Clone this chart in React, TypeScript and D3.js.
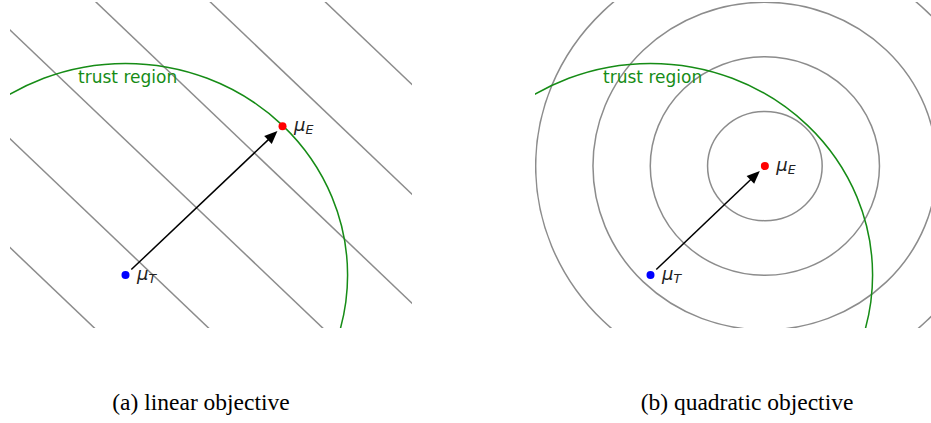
import React from "react";
import * as d3 from "d3";

// data (plot units: mu_T at the origin, trust region radius 1)
const xDomain = [-0.52, 1.29];
const yDomain = [-0.25, 1.29];
const muT = [0, 0];
const muELinear = [0.707, 0.703];
const muEQuad = [0.515, 0.515];
const trustRadius = 1;
const linearLevels = [-0.39, 0.124, 0.638, 1.157, 1.672, 2.19]; // x + y = c
const quadRadii = [0.258, 0.516, 0.774, 1.032];
const trustLabel = { text: "trust region", x: -0.2135, y: 0.907 };
const captions = ["(a) linear objective", "(b) quadratic objective"];

const W = 931;
const H = 423;
const panels = [
  { id: "lin", left: 10, right: 412, capX: 201 },
  { id: "quad", left: 535, right: 937, capX: 747 },
];
const top = 2;
const bottom = 328;

function Arrow({ from, to, x, y }) {
  const x0 = x(from[0]), y0 = y(from[1]);
  const x1 = x(to[0]), y1 = y(to[1]);
  const dx = x1 - x0, dy = y1 - y0;
  const len = Math.sqrt(dx * dx + dy * dy);
  const ux = dx / len, uy = dy / len;
  const sx = x0 + ux * 8, sy = y0 + uy * 8;
  const tx = x1 - ux * 7, ty = y1 - uy * 7;
  const hl = 13, hw = 5.5;
  const bx = tx - ux * hl, by = ty - uy * hl;
  const head = `M${tx},${ty}L${bx - uy * hw},${by + ux * hw}L${bx + uy * hw},${by - ux * hw}Z`;
  return (
    <g>
      <line x1={sx} y1={sy} x2={bx + ux * 2} y2={by + uy * 2} stroke="#000" strokeWidth={1.5} />
      <path d={head} fill="#000" />
    </g>
  );
}

function MuLabel({ px, py, sub }) {
  return (
    <text x={px + 11.5} y={py + 5} fontFamily="DejaVu Sans" fontSize={18} fill="#222">
      <tspan fontStyle="italic">μ</tspan>
      <tspan fontStyle="italic" fontSize={12.5} dy={3}>{sub}</tspan>
    </text>
  );
}

function Panel({ p, kind, caption }) {
  const x = d3.scaleLinear().domain(xDomain).range([p.left, p.right]);
  const y = d3.scaleLinear().domain(yDomain).range([bottom, top]);
  const line = d3.line<number[]>().x((d) => x(d[0])).y((d) => y(d[1]));
  const muE = kind === "lin" ? muELinear : muEQuad;
  const clipId = "clip-" + p.id;
  return (
    <g>
      <defs>
        <clipPath id={clipId}>
          <rect x={p.left} y={top} width={p.right - p.left} height={bottom - top} />
        </clipPath>
      </defs>
      <g clipPath={`url(#${clipId})`}>
        {kind === "lin" &&
          linearLevels.map((c, i) => (
            <path key={i} d={line([[-2, c + 2], [4, c - 4]]) || ""} fill="none" stroke="#8c8c8c" strokeWidth={1.5} />
          ))}
        {kind === "quad" &&
          quadRadii.map((r, i) => (
            <ellipse
              key={i}
              cx={x(muE[0])}
              cy={y(muE[1])}
              rx={x(r) - x(0)}
              ry={y(0) - y(r)}
              fill="none"
              stroke="#8c8c8c"
              strokeWidth={1.5}
            />
          ))}
        <ellipse
          cx={x(muT[0])}
          cy={y(muT[1])}
          rx={x(trustRadius) - x(0)}
          ry={y(0) - y(trustRadius)}
          fill="none"
          stroke="#168c16"
          strokeWidth={1.5}
        />
        <text x={x(trustLabel.x)} y={y(trustLabel.y)} fontFamily="DejaVu Sans" fontSize={17} fill="#168c16">
          {trustLabel.text}
        </text>
        <Arrow from={muT} to={muE} x={x} y={y} />
        <circle cx={x(muT[0])} cy={y(muT[1])} r={4} fill="#0000ff" />
        <circle cx={x(muE[0])} cy={y(muE[1])} r={4} fill="#ff0000" />
        <MuLabel px={x(muT[0])} py={y(muT[1])} sub="T" />
        <MuLabel px={x(muE[0])} py={y(muE[1])} sub="E" />
      </g>
      <text x={p.capX} y={410} textAnchor="middle" fontFamily="Liberation Serif" fontSize={23.5} fill="#000">
        {caption}
      </text>
    </g>
  );
}

export default function App() {
  return (
    <div style={{ position: "absolute", left: 0, top: 0 }}>
      <svg width={W} height={H} style={{ display: "block", background: "#fff" }}>
        <Panel p={panels[0]} kind="lin" caption={captions[0]} />
        <Panel p={panels[1]} kind="quad" caption={captions[1]} />
      </svg>
    </div>
  );
}
